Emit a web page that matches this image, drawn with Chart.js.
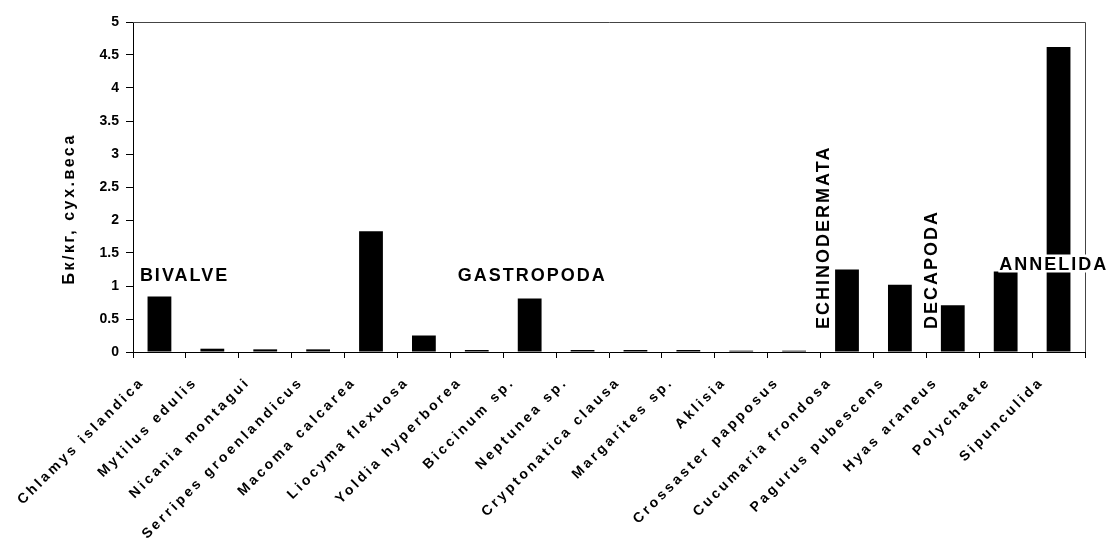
<!DOCTYPE html>
<html>
<head>
<meta charset="utf-8">
<script src="https://cdn.jsdelivr.net/npm/chart.js@4/dist/chart.umd.min.js"></script>
<style>
    html, body { margin: 0; padding: 0; background: #fff; }
    canvas { display: block; }
</style>
</head>
<body>
<canvas id="chart" width="1116" height="546"></canvas>
<script>
const categories = [
    "Chlamys islandica", "Mytilus edulis", "Nicania montagui", "Serripes groenlandicus",
    "Macoma calcarea", "Liocyma flexuosa", "Yoldia hyperborea", "Biccinum sp.",
    "Neptunea sp.", "Cryptonatica clausa", "Margarites sp.", "Aklisia",
    "Crossaster papposus", "Cucumaria frondosa", "Pagurus pubescens", "Hyas araneus",
    "Polychaete", "Sipunculida"
];
const values = [
    0.84, 0.05, 0.04, 0.04,
    1.83, 0.25, 0.03, 0.81,
    0.03, 0.03, 0.03, 0.02,
    0.02, 1.25, 1.02, 0.71,
    1.22, 4.62
];
const yTicks = [0, 0.5, 1, 1.5, 2, 2.5, 3, 3.5, 4, 4.5, 5];
const yTitle = "Бк/кг, сух.веса";

// group labels: name, position in category units, value level, vertical or not
const groupNames = ["BIVALVE", "GASTROPODA", "ECHINODERMATA", "DECAPODA", "ANNELIDA"];
const groupAt = [-0.37, 5.64, 12.57, 14.61, 15.88];
const groupLevel = [1.08, 1.08, 0.35, 0.35, 1.25];
const groupVertical = [false, false, true, true, false];

const FONT = '"Liberation Sans", Arial, sans-serif';

const frameAndGroups = {
    id: "frameAndGroups",
    beforeDraw: (chart) => {
        chart.ctx.letterSpacing = "0px";
    },
    afterDatasetsDraw: (chart) => {
        // x labels are drawn after the datasets (ticks.z: 1), spaced out like the scan
        chart.ctx.letterSpacing = "3px";
    },
    afterDraw: (chart) => {
        const ctx = chart.ctx;
        const area = chart.chartArea;
        const x = chart.scales.x;
        const y = chart.scales.y;
        ctx.save();
        ctx.letterSpacing = "0px";
        ctx.strokeStyle = "#444";
        ctx.lineWidth = 1;
        ctx.beginPath();
        ctx.moveTo(area.left, area.top + 0.5);
        ctx.lineTo(area.right + 0.5, area.top + 0.5);
        ctx.lineTo(area.right + 0.5, area.bottom);
        ctx.stroke();

        // y title, a bit below the middle of the axis as in the scan
        ctx.save();
        ctx.font = "bold 16px " + FONT;
        ctx.letterSpacing = "2.5px";
        ctx.fillStyle = "#000";
        ctx.translate(area.left - 63, y.getPixelForValue(2.17));
        ctx.rotate(-Math.PI / 2);
        ctx.textAlign = "center";
        ctx.textBaseline = "middle";
        ctx.fillText(yTitle, 0, 0);
        ctx.restore();

        ctx.font = "bold 18px " + FONT;
        ctx.letterSpacing = "2px";
        ctx.fillStyle = "#000";
        groupNames.forEach((name, i) => {
            const px = x.getPixelForValue(groupAt[i]);
            const py = y.getPixelForValue(groupLevel[i]);
            ctx.save();
            if (groupVertical[i]) {
                ctx.translate(px, py);
                ctx.rotate(-Math.PI / 2);
                ctx.textAlign = "left";
                ctx.textBaseline = "middle";
                ctx.fillText(name, 0, 0);
            } else {
                ctx.textAlign = "left";
                ctx.textBaseline = "alphabetic";
                if (name === "ANNELIDA") {
                    const w = ctx.measureText(name).width;
                    ctx.fillStyle = "#fff";
                    ctx.fillRect(px - 1, py - 15, w + 2, 18);
                    ctx.fillStyle = "#000";
                }
                ctx.fillText(name, px, py);
            }
            ctx.restore();
        });
        ctx.restore();
    }
};

const ctxChart = document.getElementById("chart");
new Chart(ctxChart, {
    type: "bar",
    data: {
        labels: categories,
        datasets: [{
            data: values,
            backgroundColor: "#000",
            borderWidth: 0,
            barPercentage: 0.45,
            categoryPercentage: 1
        }]
    },
    options: {
        responsive: false,
        animation: false,
        events: [],
        layout: { padding: { left: 58, top: 22, right: 31, bottom: 0 } },
        plugins: {
            legend: { display: false },
            tooltip: { enabled: false }
        },
        scales: {
            x: {
                grid: {
                    offset: true,
                    drawOnChartArea: false,
                    drawTicks: true,
                    tickLength: 6,
                    color: "#000"
                },
                border: { color: "#000", width: 1 },
                ticks: {
                    z: 1,
                    autoSkip: false,
                    minRotation: 45,
                    maxRotation: 45,
                    padding: 16,
                    labelOffset: -17,
                    color: "#000",
                    font: { family: FONT, size: 14, weight: "bold" }
                },
                beforeUpdate: (scale) => { scale.ctx.letterSpacing = "3px"; },
                afterUpdate: (scale) => { scale.ctx.letterSpacing = "0px"; },
                afterFit: (scale) => { scale.height = 194; }
            },
            y: {
                min: 0,
                max: 5,
                afterBuildTicks: (scale) => {
                    scale.ticks = yTicks.map(v => ({ value: v }));
                },
                grid: {
                    drawOnChartArea: false,
                    drawTicks: true,
                    tickLength: 7,
                    color: "#000"
                },
                border: { color: "#000", width: 1 },
                ticks: {
                    padding: 7,
                    color: "#000",
                    font: { family: FONT, size: 14, weight: "bold" },
                    callback: (v) => String(v)
                },
                afterFit: (scale) => { scale.width = 75; }
            }
        }
    },
    plugins: [frameAndGroups]
});
</script>
</body>
</html>
